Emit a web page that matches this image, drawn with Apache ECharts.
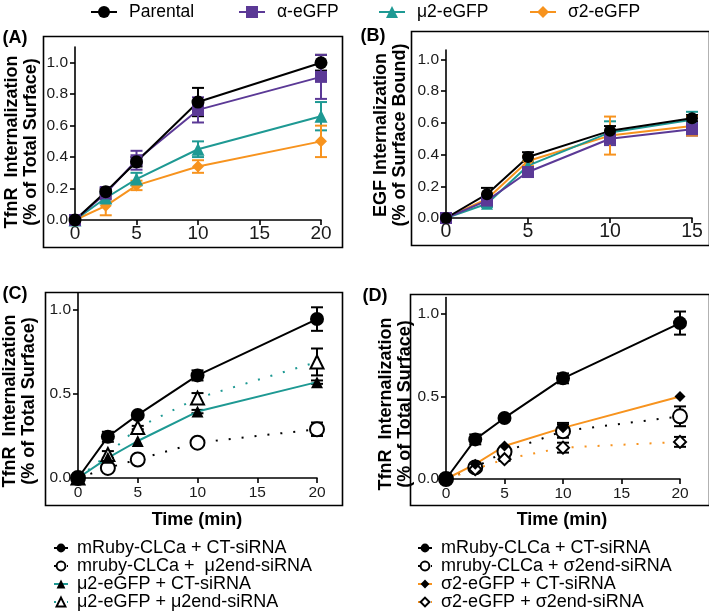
<!DOCTYPE html>
<html>
<head>
<meta charset="utf-8">
<script src="https://cdn.jsdelivr.net/npm/echarts@6/dist/echarts.min.js"></script>
<style>
  html, body { margin: 0; padding: 0; background: #fff; }
  #chart { width: 709px; height: 616px; }
</style>
</head>
<body>
<div id="chart"></div>
<script>
// time points (min)
const xAC = [0, 2.5, 5, 10, 20];
const xB = [0, 2.5, 5, 10, 15];

// (A) TfnR internalization
const parentalA = [0, 0.18, 0.37, 0.75, 1.0];
const parentalAErr = [0, 0.02, 0.03, 0.09, 0.05];
const alphaA = [0, 0.17, 0.38, 0.70, 0.91];
const alphaAErr = [0, 0.04, 0.06, 0.08, 0.14];
const mu2A = [0, 0.14, 0.26, 0.45, 0.66];
const mu2AErr = [0, 0.03, 0.04, 0.05, 0.09];
const sigma2A = [0, 0.09, 0.22, 0.34, 0.50];
const sigma2AErr = [0, 0.06, 0.03, 0.04, 0.10];

// (B) EGF internalization
const parentalB = [0, 0.15, 0.385, 0.55, 0.63];
const parentalBErr = [0, 0.04, 0.03, 0.03, 0.02];
const alphaB = [0, 0.11, 0.29, 0.50, 0.56];
const alphaBErr = [0, 0.02, 0.03, 0.04, 0.04];
const mu2B = [0, 0.09, 0.33, 0.54, 0.62];
const mu2BErr = [0, 0.02, 0.03, 0.07, 0.05];
const sigma2B = [0, 0.12, 0.36, 0.52, 0.58];
const sigma2BErr = [0, 0.03, 0.03, 0.12, 0.06];

// (C) mu2 knockdown
const ctC = [0, 0.245, 0.375, 0.61, 0.945];
const ctCErr = [0, 0.03, 0.01, 0.03, 0.07];
const rubyMu2end = [0, 0.06, 0.11, 0.21, 0.29];
const rubyMu2endErr = [0, 0, 0, 0.01, 0.04];
const mu2CT = [0, 0.12, 0.22, 0.395, 0.57];
const mu2CTErr = [0, 0, 0, 0.01, 0.01];
const mu2Mu2end = [0, 0.14, 0.30, 0.475, 0.69];
const mu2Mu2endErr = [0, 0.02, 0.01, 0.03, 0.08];

// (D) sigma2 knockdown
const ctD = [0, 0.24, 0.37, 0.61, 0.945];
const ctDErr = [0, 0.03, 0.01, 0.03, 0.07];
const rubySig2end = [0, 0.07, 0.165, 0.29, 0.38];
const rubySig2endErr = [0, 0.01, 0.02, 0.04, 0.06];
const sig2CT = [0, 0.09, 0.20, 0.31, 0.50];
const sig2CTErr = [0, 0, 0, 0.03, 0];
const sig2Sig2end = [0, 0.06, 0.12, 0.19, 0.225];
const sig2Sig2endErr = [0, 0.01, 0.01, 0.03, 0.03];

const ticksAB = [0, 0.2, 0.4, 0.6, 0.8, 1.0];
const ticksCD = [0, 0.5, 1.0];

const BLACK = '#000000';
const PURPLE = '#5b3996';
const TEAL = '#1e9993';
const ORANGE = '#f7931e';
const FONT = 'Liberation Sans, Arial, sans-serif';

const pairs = (xs, ys) => xs.map((x, i) => [x, ys[i]]);

function lineSeries(name, idx, xs, ys, opt) {
  return {
    name: name,
    type: 'line',
    xAxisIndex: idx,
    yAxisIndex: idx,
    data: pairs(xs, ys),
    symbol: opt.symbol,
    symbolSize: opt.size,
    z: 3,
    lineStyle: { color: opt.line, width: 2, type: opt.dash || 'solid' },
    itemStyle: { color: opt.mark, borderColor: opt.mark, borderWidth: opt.border || 0 },
    emphasis: { disabled: true },
    animation: false
  };
}

// error bars with caps
function errSeries(idx, xs, ys, errs, color) {
  return {
    type: 'custom',
    xAxisIndex: idx,
    yAxisIndex: idx,
    z: 2,
    silent: true,
    animation: false,
    data: xs.map((x, i) => [x, ys[i], errs[i]]).filter(d => d[2] > 0),
    renderItem: function (params, api) {
      const x = api.value(0), m = api.value(1), e = api.value(2);
      const hi = api.coord([x, m + e]);
      const lo = api.coord([x, m - e]);
      const w = 6;
      const st = { stroke: color, lineWidth: 2 };
      return {
        type: 'group',
        children: [
          { type: 'line', shape: { x1: hi[0], y1: hi[1], x2: lo[0], y2: lo[1] }, style: st },
          { type: 'line', shape: { x1: hi[0] - w, y1: hi[1], x2: hi[0] + w, y2: hi[1] }, style: st },
          { type: 'line', shape: { x1: lo[0] - w, y1: lo[1], x2: lo[0] + w, y2: lo[1] }, style: st }
        ]
      };
    }
  };
}

const axisLine = { lineStyle: { color: BLACK, width: 1.6 } };
const tickStyle = { length: 5, lineStyle: { color: BLACK, width: 1.6 } };
const labelStyle = { color: '#1a1a1a', fontFamily: FONT };

function xAxisOf(idx, max, size, margin) {
  return {
    type: 'value', gridIndex: idx, min: 0, max: max, interval: 5,
    axisLine: axisLine, axisTick: tickStyle,
    axisLabel: Object.assign({ margin: margin, fontSize: size }, labelStyle),
    splitLine: { show: false }
  };
}
function yAxisOf(idx, max, ticks) {
  return {
    type: 'value', gridIndex: idx, min: 0, max: max,
    axisLine: Object.assign({ show: true }, axisLine),
    axisTick: Object.assign({ customValues: ticks }, tickStyle),
    axisLabel: Object.assign({ margin: 7, fontSize: 15.5, customValues: ticks, formatter: v => v.toFixed(1) }, labelStyle),
    splitLine: { show: false }
  };
}

const dotted = [2, 11];

const series = [
  // A
  errSeries(0, xAC, parentalA, parentalAErr, BLACK),
  errSeries(0, xAC, alphaA, alphaAErr, PURPLE),
  errSeries(0, xAC, mu2A, mu2AErr, TEAL),
  errSeries(0, xAC, sigma2A, sigma2AErr, ORANGE),
  lineSeries('σ2-eGFP', 0, xAC, sigma2A, { symbol: 'diamond', size: 12, line: ORANGE, mark: ORANGE }),
  lineSeries('μ2-eGFP', 0, xAC, mu2A, { symbol: 'triangle', size: 13, line: TEAL, mark: TEAL }),
  lineSeries('α-eGFP', 0, xAC, alphaA, { symbol: 'rect', size: 12, line: PURPLE, mark: PURPLE }),
  lineSeries('Parental', 0, xAC, parentalA, { symbol: 'circle', size: 13, line: BLACK, mark: BLACK }),
  // B
  errSeries(1, xB, parentalB, parentalBErr, BLACK),
  errSeries(1, xB, alphaB, alphaBErr, PURPLE),
  errSeries(1, xB, mu2B, mu2BErr, TEAL),
  errSeries(1, xB, sigma2B, sigma2BErr, ORANGE),
  lineSeries('σ2-eGFP', 1, xB, sigma2B, { symbol: 'diamond', size: 12, line: ORANGE, mark: ORANGE }),
  lineSeries('μ2-eGFP', 1, xB, mu2B, { symbol: 'triangle', size: 12, line: TEAL, mark: TEAL }),
  lineSeries('α-eGFP', 1, xB, alphaB, { symbol: 'rect', size: 12, line: PURPLE, mark: PURPLE }),
  lineSeries('Parental', 1, xB, parentalB, { symbol: 'circle', size: 12, line: BLACK, mark: BLACK }),
  // C
  errSeries(2, xAC, ctC, ctCErr, BLACK),
  errSeries(2, xAC, rubyMu2end, rubyMu2endErr, BLACK),
  errSeries(2, xAC, mu2CT, mu2CTErr, BLACK),
  errSeries(2, xAC, mu2Mu2end, mu2Mu2endErr, BLACK),
  lineSeries('mruby-CLCa +  μ2end-siRNA', 2, xAC, rubyMu2end, { symbol: 'emptyCircle', size: 14, line: BLACK, mark: BLACK, border: 2, dash: dotted }),
  lineSeries('μ2-eGFP + μ2end-siRNA', 2, xAC, mu2Mu2end, { symbol: 'emptyTriangle', size: 13, line: TEAL, mark: BLACK, border: 2, dash: dotted }),
  lineSeries('μ2-eGFP + CT-siRNA', 2, xAC, mu2CT, { symbol: 'triangle', size: 12, line: TEAL, mark: BLACK }),
  lineSeries('mRuby-CLCa + CT-siRNA', 2, xAC, ctC, { symbol: 'circle', size: 14, line: BLACK, mark: BLACK }),
  // D
  errSeries(3, xAC, ctD, ctDErr, BLACK),
  errSeries(3, xAC, rubySig2end, rubySig2endErr, BLACK),
  errSeries(3, xAC, sig2CT, sig2CTErr, BLACK),
  errSeries(3, xAC, sig2Sig2end, sig2Sig2endErr, BLACK),
  lineSeries('mruby-CLCa + σ2end-siRNA', 3, xAC, rubySig2end, { symbol: 'emptyCircle', size: 14, line: BLACK, mark: BLACK, border: 2, dash: dotted }),
  lineSeries('σ2-eGFP + σ2end-siRNA', 3, xAC, sig2Sig2end, { symbol: 'emptyDiamond', size: 12, line: ORANGE, mark: BLACK, border: 2, dash: dotted }),
  lineSeries('σ2-eGFP + CT-siRNA', 3, xAC, sig2CT, { symbol: 'diamond', size: 11, line: ORANGE, mark: BLACK }),
  lineSeries('mRuby-CLCa + CT-siRNA', 3, xAC, ctD, { symbol: 'circle', size: 14, line: BLACK, mark: BLACK })
];

function topLegend(name, left) {
  return {
    data: [name], left: left, top: 3, padding: 0,
    itemWidth: 26, itemHeight: 15, selectedMode: false,
    textStyle: { fontSize: 17.5, color: BLACK, fontFamily: FONT, padding: [0, 0, 0, 7] }
  };
}
function sideLegend(names, left) {
  return {
    data: names, left: left, top: 539, height: 120, padding: 0, orient: 'vertical',
    itemWidth: 14, itemHeight: 11, itemGap: 0, selectedMode: false,
    textStyle: { fontSize: 18, lineHeight: 18, color: BLACK, fontFamily: FONT, padding: [0, 0, 0, 4] }
  };
}

function box(x, y, w, h) {
  return { type: 'rect', left: x, top: y, z: 0, silent: true,
    shape: { width: w, height: h }, style: { fill: 'none', stroke: BLACK, lineWidth: 1.6 } };
}
function txt(text, x, y, size, rotate) {
  return { type: 'text', x: x, y: y, rotation: rotate ? Math.PI / 2 : 0, z: 5, silent: true,
    style: { text: text, fontSize: size, fontWeight: 'bold', fontFamily: FONT, fill: BLACK,
      align: 'center', verticalAlign: 'middle', lineHeight: 19 } };
}

const option = {
  backgroundColor: '#ffffff',
  animation: false,
  grid: [
    { left: 75, top: 47, width: 246, height: 173 },
    { left: 446, top: 50, width: 246, height: 168 },
    { left: 78, top: 293, width: 239, height: 185 },
    { left: 446, top: 297.5, width: 234, height: 181.5 }
  ],
  xAxis: [xAxisOf(0, 20, 19, 4), xAxisOf(1, 15, 19.5, 4), xAxisOf(2, 20, 15.5, 7), xAxisOf(3, 20, 15.5, 7)],
  yAxis: [yAxisOf(0, 1.1, ticksAB), yAxisOf(1, 1.06, ticksAB), yAxisOf(2, 1.1, ticksCD), yAxisOf(3, 1.1, ticksCD)],
  legend: [
    topLegend('Parental', 90),
    topLegend('α-eGFP', 238),
    topLegend('μ2-eGFP', 378),
    topLegend('σ2-eGFP', 529),
    sideLegend(['mRuby-CLCa + CT-siRNA', 'mruby-CLCa +  μ2end-siRNA', 'μ2-eGFP + CT-siRNA', 'μ2-eGFP + μ2end-siRNA'], 53),
    sideLegend(['mRuby-CLCa + CT-siRNA', 'mruby-CLCa + σ2end-siRNA', 'σ2-eGFP + CT-siRNA', 'σ2-eGFP + σ2end-siRNA'], 417)
  ],
  graphic: [
    box(41, 34, 299, 211),
    box(409, 29, 298, 214),
    box(43, 290, 297, 213),
    box(408, 292, 299, 211),
    txt('(A)', 15, 38, 18),
    txt('(B)', 373, 36, 18),
    txt('(C)', 15, 294, 18),
    txt('(D)', 375, 296, 18),
    txt('TfnR  Internalization\n(% of Total Surface)', 22, 142, 18, true),
    txt('EGF Internalization\n(% of Surface Bound)', 391, 135, 18, true),
    txt('TfnR  Internalization\n(% of Total Surface)', 20, 401, 18, true),
    txt('TfnR  Internalization\n(% of Total Surface)', 396, 404, 18, true),
    txt('Time (min)', 197, 520, 18),
    txt('Time (min)', 562, 520, 18)
  ],
  series: series
};

const chart = echarts.init(document.getElementById('chart'), null, { renderer: 'canvas' });
chart.setOption(option);
</script>
</body>
</html>
